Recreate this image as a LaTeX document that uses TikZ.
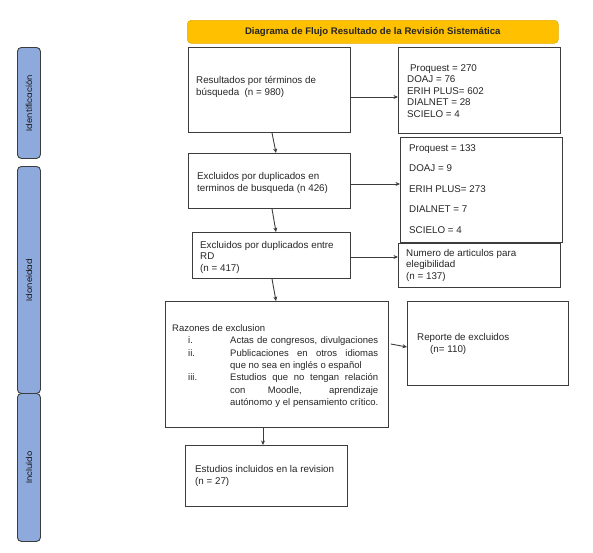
\documentclass[tikz,border=0pt]{standalone}
\usepackage{fontspec}
\setmainfont{Liberation Sans}
\newfontfamily\sidefont{Poppins}
\usetikzlibrary{arrows.meta}
\definecolor{boxc}{HTML}{3C3C3C}
\definecolor{sidefill}{HTML}{8EA9DB}
\definecolor{titlefill}{HTML}{FFC000}
\definecolor{titledraw}{HTML}{E6AC00}
\tikzset{
  box/.style={draw=boxc, line width=0.9pt, inner sep=0pt, anchor=north west, fill=white},
  txt/.style={anchor=west, align=left, inner sep=0pt, text=black!85, font=\fontsize{9.8}{11.5}\selectfont},
  side/.style={draw=boxc, line width=0.9pt, fill=sidefill, rounded corners=4pt, inner sep=0pt, anchor=north west},
  sidetxt/.style={rotate=90, inner sep=0pt, text=black!90, font=\sidefont\fontsize{8.3}{10}\selectfont},
  arr/.style={draw=boxc, line width=0.9pt, -{Stealth[length=4.5pt,width=4pt]}},
}
\begin{document}
\begin{tikzpicture}[x=1pt,y=-1pt]
\useasboundingbox (0,0) rectangle (593,552);

% side bars
\node[side, minimum width=23pt, minimum height=111pt] (s1) at (17,47) {};
\node[sidetxt] (s1t) at (s1.center) {Identificación};
\node[side, minimum width=23pt, minimum height=227pt] (s2) at (17,166) {};
\node[sidetxt] (s2t) at (s2.center) {Idoneidad};
\node[side, minimum width=23pt, minimum height=148pt] (s3) at (17,393) {};
\node[sidetxt] (s3t) at (s3.center) {Incluido};

% title
\node[draw=titledraw, fill=titlefill, line width=0.6pt, rounded corners=4pt, anchor=north west,
      minimum width=371pt, minimum height=23pt, inner sep=0pt,
      font=\bfseries\fontsize{9.6}{11}\selectfont, text=black!85] (title) at (187,20)
      {Diagrama de Flujo Resultado de la Revisión Sistemática};

% main column
\node[box, minimum width=162pt, minimum height=85pt] (b1) at (188,47) {};
\node[txt] (b1t) at (196,87) {Resultados por términos de\\búsqueda\ \ (n = 980)};

\node[box, minimum width=162pt, minimum height=55pt] (b2) at (188,153) {};
\node[txt] (b2t) at (197,183) {Excluidos por duplicados en\\terminos de busqueda (n 426)};

\node[box, minimum width=158pt, minimum height=46pt] (b3) at (192,232) {};
\node[txt] (b3t) at (200,257) {Excluidos por duplicados entre\\RD\\(n = 417)};

\node[box, minimum width=223pt, minimum height=126pt] (b4) at (165,301) {};
\node[anchor=west, inner sep=0pt, text=black!85, font=\fontsize{9.5}{12.3}\selectfont] (b4t) at (172,366)
{\begin{tabular}{@{}l@{}l@{}}
\multicolumn{2}{@{}l@{}}{Razones de exclusion}\\
\makebox[58pt][l]{\hspace{16pt}i.} & \makebox[148pt][s]{Actas de congresos, divulgaciones}\\
\makebox[58pt][l]{\hspace{16pt}ii.} & \makebox[148pt][s]{Publicaciones en otros idiomas}\\
 & que no sea en inglés o español\\
\makebox[58pt][l]{\hspace{16pt}iii.} & \makebox[148pt][s]{Estudios que no tengan relación}\\
 & \makebox[148pt][s]{con Moodle, aprendizaje}\\
 & \makebox[148pt][s]{autónomo y el pensamiento crítico.}
\end{tabular}};

\node[box, minimum width=162pt, minimum height=61pt] (b5) at (185,445) {};
\node[txt] (b5t) at (195,476) {Estudios incluidos en la revision\\(n = 27)};

% right column
\node[box, minimum width=162pt, minimum height=86pt] (r1) at (398,47) {};
\node[txt] (r1t) at (407,91) {\hspace{3pt}Proquest = 270\\DOAJ = 76\\ERIH PLUS= 602\\DIALNET = 28\\SCIELO = 4};

\node[box, minimum width=162pt, minimum height=105pt] (r2) at (400,137) {};
\node[txt, font=\fontsize{9.8}{20.5}\selectfont] (r2t) at (409,189) {Proquest = 133\\DOAJ = 9\\ERIH PLUS= 273\\DIALNET = 7\\SCIELO = 4};

\node[box, minimum width=162pt, minimum height=44pt] (r3) at (398,243) {};
\node[txt] (r3t) at (406,265) {Numero de articulos para\\elegibilidad\\(n = 137)};

\node[box, minimum width=161pt, minimum height=84pt] (r4) at (407,301) {};
\node[txt] (r4t) at (417,344) {Reporte de excluidos\\\hspace{13pt}(n= 110)};

% connectors
\draw[arr] (b1.east |- 0,97) -- (r1.west |- 0,97);
\draw[arr] (b2.east |- 0,184) -- (r2.west |- 0,184);
\draw[arr] (b3.east |- 0,257) -- (r3.west |- 0,257);
\draw[arr] ([xshift=2pt]b4.east |- 0,344) -- (r4.west |- 0,347);

\draw[arr] ([xshift=84pt]b1.south west) -- ([xshift=88pt]b2.north west);
\draw[arr] ([xshift=84pt]b2.south west) -- ([xshift=84pt]b3.north west);
\draw[arr] ([xshift=80pt]b3.south west) -- ([xshift=111pt]b4.north west);
\draw[arr] ([xshift=98pt]b4.south west) -- ([xshift=78pt]b5.north west);
\end{tikzpicture}
\end{document}
